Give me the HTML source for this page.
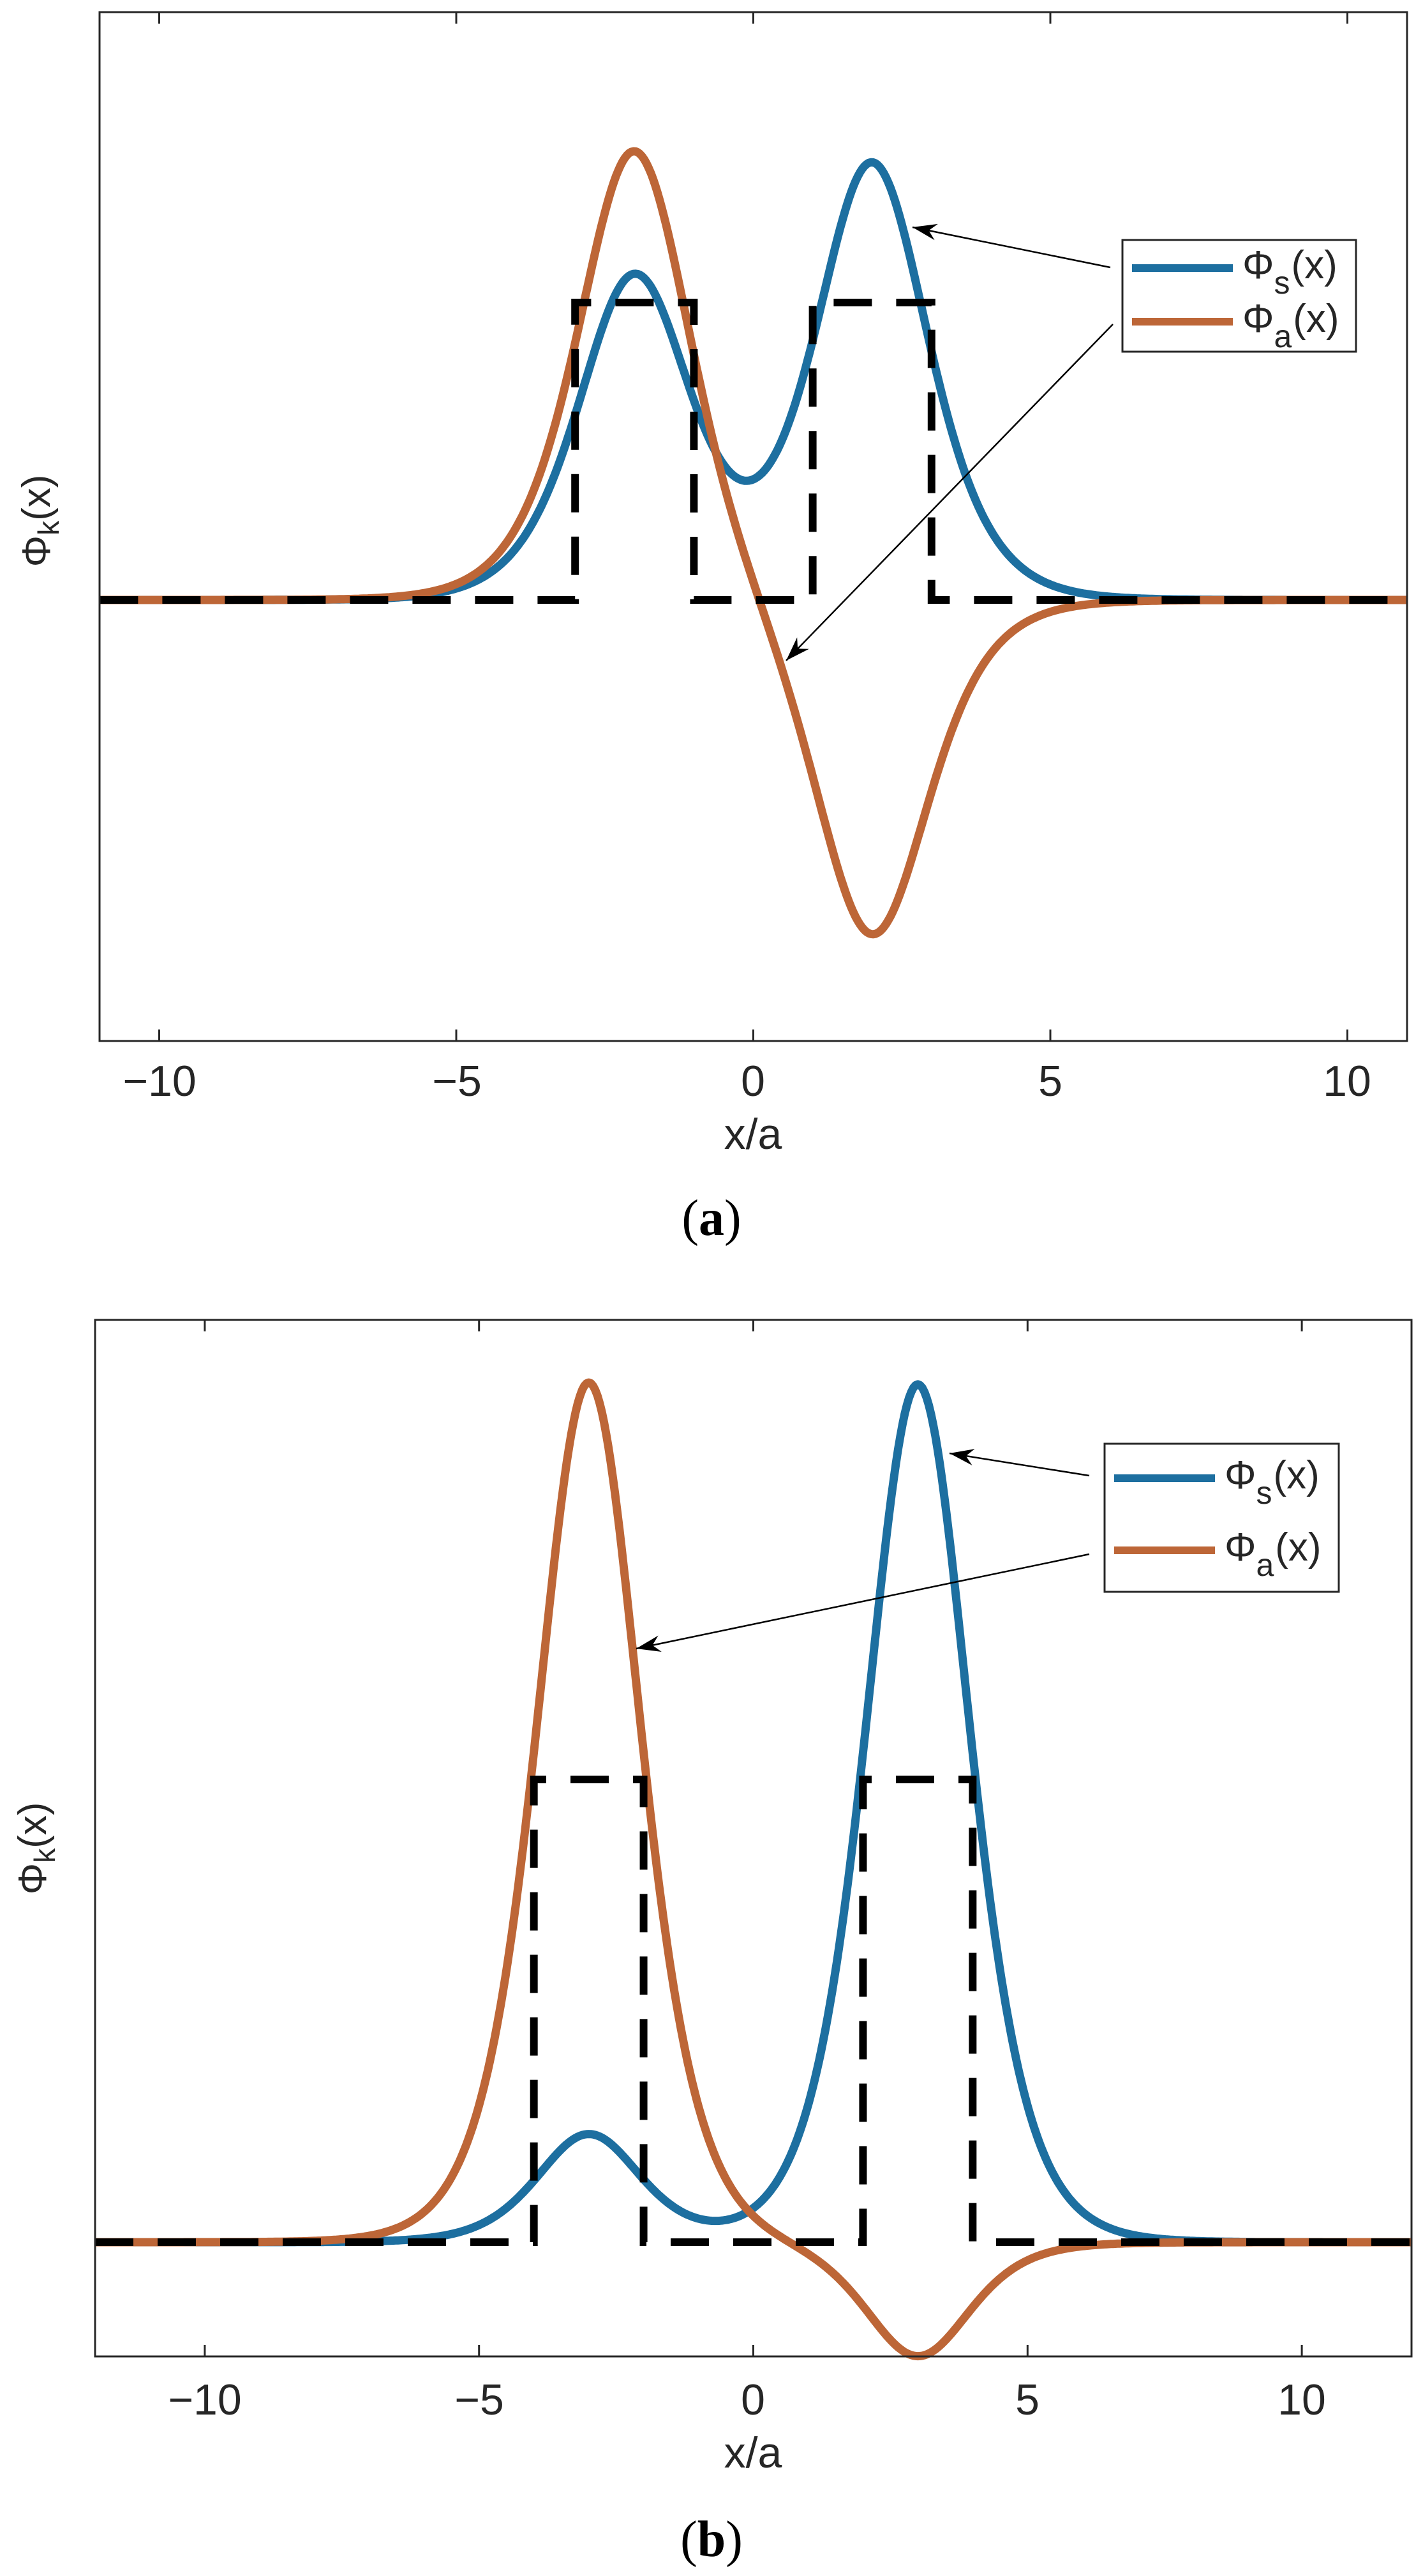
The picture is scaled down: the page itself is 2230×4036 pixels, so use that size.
<!DOCTYPE html>
<html><head><meta charset="utf-8"><style>
html,body{margin:0;padding:0;background:#fff;}
svg{display:block;}
text{font-family:"Liberation Sans",sans-serif;fill:#262626;}
</style></head><body>
<svg id="s" width="2230" height="4036" viewBox="0 0 2230 4036" xmlns="http://www.w3.org/2000/svg">
<rect width="2230" height="4036" fill="#fff"/>
<g id="plots"></g>
<rect x="156" y="19" width="2049" height="1612" fill="none" stroke="#262626" stroke-width="3"/>
<rect x="149" y="2068" width="2063" height="1624" fill="none" stroke="#262626" stroke-width="3"/>
<g font-size="68" text-anchor="middle">
<text x="250" y="1717">−10</text><text x="716" y="1717">−5</text><text x="1180" y="1717">0</text><text x="1646" y="1717">5</text><text x="2111" y="1717">10</text>
<text x="1180" y="1800">x/a</text>
<text x="321" y="3783">−10</text><text x="751" y="3783">−5</text><text x="1180" y="3783">0</text><text x="1610" y="3783">5</text><text x="2040" y="3783">10</text>
<text x="1180" y="3866">x/a</text>
</g>
<text transform="translate(78,816) rotate(-90)" font-size="62" text-anchor="middle">Φ<tspan font-size="46" dy="14">k</tspan><tspan dy="-14">(x)</tspan></text>
<text transform="translate(72,2896) rotate(-90)" font-size="62" text-anchor="middle">Φ<tspan font-size="46" dy="14">k</tspan><tspan dy="-14">(x)</tspan></text>
<g font-size="80" text-anchor="middle">
<text x="1115" y="1935" style="font-family:'Liberation Serif',serif;fill:#000">(<tspan font-weight="bold">a</tspan>)</text>
<text x="1115" y="4005" style="font-family:'Liberation Serif',serif;fill:#000">(<tspan font-weight="bold">b</tspan>)</text>
</g>
</svg>
<script>
(function(){
var NS="http://www.w3.org/2000/svg",g=document.getElementById("plots");
function el(t,a){var e=document.createElementNS(NS,t);for(var k in a)e.setAttribute(k,a[k]);g.appendChild(e);return e;}
function sech2(d){var c=Math.cosh(0.785*d);return 1/(c*c);}
function curve(X,f,x0,x1){var s="";for(var i=0;i<=600;i++){var x=x0+(x1-x0)*i/600;s+=(i?"L":"M")+X(x).toFixed(1)+" "+f(x).toFixed(1);}return s;}
function arrow(x1,y1,x2,y2){
 el("line",{x1:x1,y1:y1,x2:x2,y2:y2,stroke:"#000","stroke-width":2.5});
 var dx=x2-x1,dy=y2-y1,L=Math.hypot(dx,dy),ux=dx/L,uy=dy/L,px=-uy,py=ux;
 var bx=x2-ux*38,by=y2-uy*38,mx=x2-ux*26,my=y2-uy*26;
 el("polygon",{points:x2+","+y2+" "+(bx+px*13)+","+(by+py*13)+" "+mx+","+my+" "+(bx-px*13)+","+(by-py*13),fill:"#000"});
}
function ticks(X,top,bot,vals){vals.forEach(function(v){var x=X(v);el("line",{x1:x,y1:bot,x2:x,y2:bot-18,stroke:"#262626","stroke-width":3});el("line",{x1:x,y1:top,x2:x,y2:top+18,stroke:"#262626","stroke-width":3});});}
function legend(bx,by,bw,bh,y1,y2){
 el("rect",{x:bx,y:by,width:bw,height:bh,fill:"#fff",stroke:"#262626","stroke-width":3});
 el("line",{x1:bx+15,y1:y1,x2:bx+173,y2:y1,stroke:"#1d6fa0","stroke-width":12});
 el("line",{x1:bx+15,y1:y2,x2:bx+173,y2:y2,stroke:"#bd6637","stroke-width":12});
 [["s",y1],["a",y2]].forEach(function(p){var t=el("text",{x:bx+188,y:p[1]+16,"font-size":62});
  t.innerHTML='Φ<tspan font-size="50" dy="24">'+p[0]+'</tspan><tspan dy="-24" dx="2">(x)</tspan>';});
}
var Xa=function(x){return 1180.5+93.1*x;},Z=940;
ticks(Xa,19,1631,[-10,-5,0,5,10]);
el("path",{d:curve(Xa,function(x){return Z-(682*sech2(x-2)+506*sech2(x+2));},-11,11),fill:"none",stroke:"#1d6fa0","stroke-width":13,"stroke-linejoin":"round"});
el("path",{d:curve(Xa,function(x){return Z-(707*sech2(x+2)-529*sech2(x-2));},-11,11),fill:"none",stroke:"#bd6637","stroke-width":13,"stroke-linejoin":"round"});
var T=474;
el("path",{d:"M"+Xa(-11)+" "+Z+"H"+Xa(-3)+"V"+T+"H"+Xa(-1)+"V"+Z+"H"+Xa(1)+"V"+T+"H"+Xa(3)+"V"+Z+"H"+Xa(11),fill:"none",stroke:"#000","stroke-width":12,"stroke-dasharray":"60 38"});
legend(1759,376,366,175,420,504);
arrow(1740,419,1430,356);
arrow(1744,508,1232,1035);
var Xb=function(x){return 1180.5+85.96*x;},Zb=3513;
ticks(Xb,2068,3692,[-10,-5,0,5,10]);
el("path",{d:curve(Xb,function(x){return Zb-(1344*sech2(x-3)+169*sech2(x+3));},-12,12),fill:"none",stroke:"#1d6fa0","stroke-width":13,"stroke-linejoin":"round"});
el("path",{d:curve(Xb,function(x){return Zb-(1347*sech2(x+3)-179*sech2(x-3));},-12,12),fill:"none",stroke:"#bd6637","stroke-width":13,"stroke-linejoin":"round"});
var Tb=2788;
el("path",{d:"M"+Xb(-12)+" "+Zb+"H"+Xb(-4)+"V"+Tb+"H"+Xb(-2)+"V"+Zb+"H"+Xb(2)+"V"+Tb+"H"+Xb(4)+"V"+Zb+"H"+Xb(12),fill:"none",stroke:"#000","stroke-width":12,"stroke-dasharray":"60 38"});
legend(1731,2262,367,232,2316,2429);
arrow(1707,2312,1488,2277);
arrow(1707,2435,997,2583);
})();
</script>
</body></html>
